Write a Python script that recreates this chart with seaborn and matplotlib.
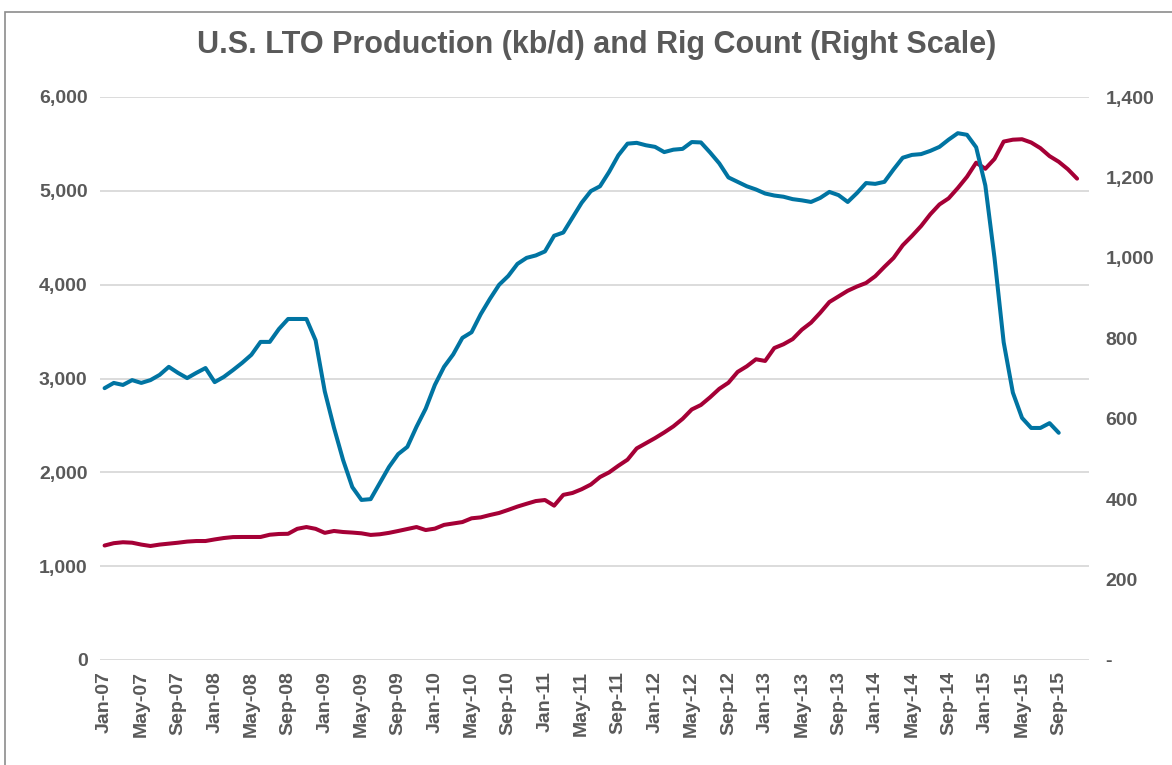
import matplotlib
matplotlib.use("Agg")
import matplotlib.pyplot as plt
import seaborn as sns
import pandas as pd
import numpy as np
from matplotlib.patches import Rectangle

# ---------------- data ----------------
month_names = ["Jan", "Feb", "Mar", "Apr", "May", "Jun",
               "Jul", "Aug", "Sep", "Oct", "Nov", "Dec"]
years = ["07", "08", "09", "10", "11", "12", "13", "14", "15"]
months = [f"{m}-{y}" for y in years for m in month_names]  # Jan-07 .. Dec-15

# U.S. LTO production, kb/d (left axis), Jan-07 .. Nov-15
production = [
    1220, 1245, 1255, 1250, 1230, 1215, 1230, 1240, 1250, 1262, 1268, 1268,
    1285, 1300, 1310, 1311, 1311, 1311, 1335, 1343, 1345, 1398, 1417, 1398,
    1355, 1375, 1364, 1358, 1350, 1333, 1340, 1355, 1375, 1396, 1417, 1385,
    1400, 1440, 1455, 1470, 1510, 1520, 1545, 1567, 1600, 1635, 1665, 1694,
    1705, 1645, 1760, 1780, 1820, 1870, 1950, 2000, 2070, 2135, 2255, 2310,
    2365, 2425, 2490, 2570, 2670, 2718, 2800, 2890, 2955, 3070, 3130, 3205,
    3187, 3325, 3365, 3420, 3520, 3595, 3700, 3815, 3875, 3935, 3980, 4018,
    4090, 4190, 4285, 4420, 4519, 4625, 4750, 4855, 4920, 5030, 5150, 5300,
    5235, 5340, 5525, 5545, 5550, 5515, 5455, 5370, 5310, 5230, 5130,
]

# Rig count (right axis), Jan-07 .. Sep-15
rigs = [
    676, 689, 684, 696, 689, 696, 709, 729, 714, 701, 714, 726,
    691, 704, 721, 739, 759, 791, 791, 823, 848, 848, 848, 795,
    668, 578, 497, 430, 398, 400, 440, 480, 512, 530, 580, 625,
    684, 729, 760, 801, 815, 860, 898, 933, 955, 985, 1000, 1006,
    1016, 1055, 1063, 1100, 1137, 1166, 1178, 1214, 1255, 1284, 1286, 1280,
    1276, 1263, 1269, 1271, 1288, 1287, 1262, 1235, 1200, 1189, 1178, 1170,
    1160, 1155, 1152, 1146, 1143, 1139, 1149, 1164, 1156, 1139, 1161, 1186,
    1184, 1189, 1220, 1249, 1256, 1258, 1266, 1276, 1294, 1310, 1306, 1275,
    1180, 1000, 790, 665, 602, 577, 577, 589, 565,
]

title = "U.S. LTO Production (kb/d) and Rig Count (Right Scale)"
left_ticks = [0, 1000, 2000, 3000, 4000, 5000, 6000]
right_ticks = [0, 200, 400, 600, 800, 1000, 1200, 1400]

RED = "#A50036"
BLUE = "#0074A2"
TXT = "#595959"
GRID = "#D9D9D9"

df_prod = pd.DataFrame({"idx": np.arange(len(production)), "value": production})
df_rigs = pd.DataFrame({"idx": np.arange(len(rigs)), "value": rigs})

# ---------------- plot ----------------
sns.set_theme(style="white")
plt.rcParams["font.family"] = ["Liberation Sans", "DejaVu Sans"]

W, H = 1172, 765
fig = plt.figure(figsize=(W / 100, H / 100), dpi=100)
ax = fig.add_axes([100 / W, 1 - 660 / H, 989 / W, 563 / H])
ax2 = ax.twinx()

sns.lineplot(data=df_prod, x="idx", y="value", ax=ax, color=RED, linewidth=2.9)
sns.lineplot(data=df_rigs, x="idx", y="value", ax=ax2, color=BLUE, linewidth=2.9)

for a in (ax, ax2):
    for s in a.spines.values():
        s.set_visible(False)
    a.set_xlabel("")
    a.set_ylabel("")
    a.tick_params(length=0)

ax.set_xlim(-0.5, 107.3)
ax.set_ylim(0, 6000)
ax2.set_ylim(0, 1400)

FS = 14
ax.set_yticks(left_ticks)
ax.set_yticklabels(["0" if v == 0 else f"{v:,}" for v in left_ticks],
                   fontsize=FS, fontweight="bold", color=TXT)
ax.tick_params(axis="y", pad=9)
ax2.set_yticks(right_ticks)
ax2.set_yticklabels(["-" if v == 0 else f"{v:,}" for v in right_ticks],
                    fontsize=FS, fontweight="bold", color=TXT)
ax2.tick_params(axis="y", pad=12)

xt = list(range(0, 105, 4))
ax.set_xticks(xt)
ax.set_xticklabels([months[i] for i in xt], rotation=90,
                   fontsize=FS, fontweight="bold", color=TXT)
ax.tick_params(axis="x", pad=8)

ax.grid(axis="y", color=GRID, linewidth=1.3)
ax.grid(axis="x", visible=False)
ax2.grid(False)
ax.set_axisbelow(True)

fig.text(597 / W, 1 - 45 / H, title, ha="center", va="center",
         fontsize=22, fontweight="bold", color=TXT)

fig.add_artist(Rectangle((5 / W, -0.1), 1.2, (H - 12) / H + 0.1,
                         transform=fig.transFigure, fill=False,
                         edgecolor="#8C8C8C", linewidth=1.2))

fig.savefig("out.png", dpi=100, facecolor="white")
